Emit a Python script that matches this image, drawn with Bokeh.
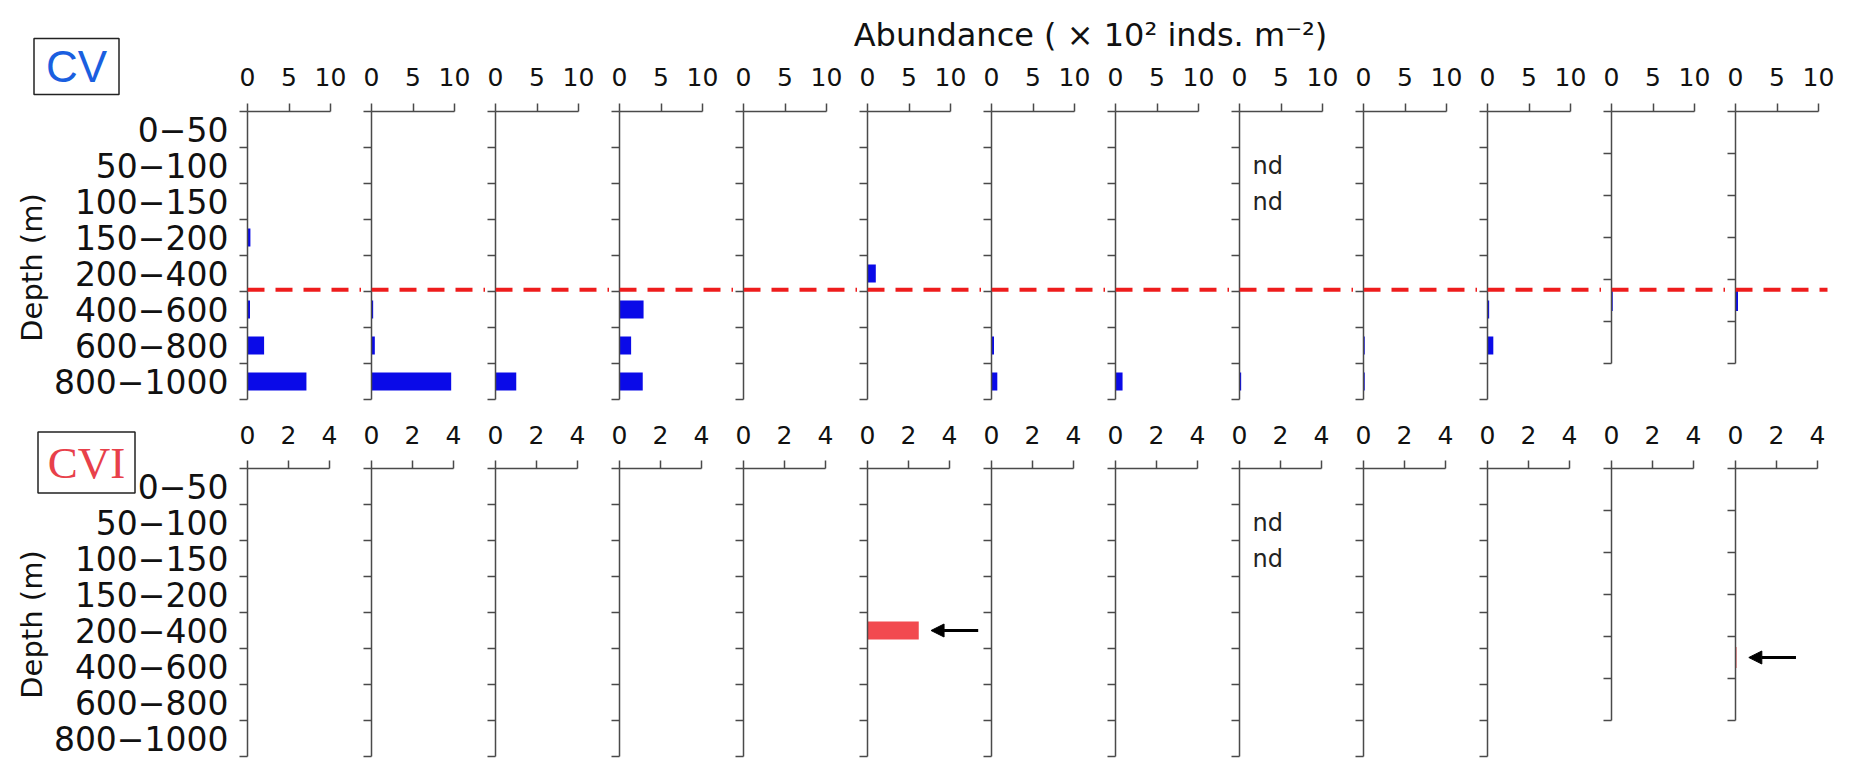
import math
from bokeh.plotting import figure
from bokeh.layouts import column, row
from bokeh.models import Range1d, FixedTicker, Label, Arrow, NormalHead
from bokeh.core.properties import value
from bokeh.embed import file_html
from bokeh.resources import INLINE

# ---------------- data ----------------
depth_labels = ["0−50", "50−100", "100−150", "150−200", "200−400",
                "400−600", "600−800", "800−1000"]
N_SHORT_BINS = 6          # the last two stations have 6 depth layers
ND = None                 # not determined

# CV abundance (x10^2 inds. m^-2), one list per station, top to bottom
cv_s01 = [0, 0, 0, 0.35, 0, 0.3, 2.0, 7.1]
cv_s02 = [0, 0, 0, 0, 0, 0.2, 0.4, 9.6]
cv_s03 = [0, 0, 0, 0, 0, 0, 0, 2.5]
cv_s04 = [0, 0, 0, 0, 0, 2.9, 1.4, 2.8]
cv_s05 = [0, 0, 0, 0, 0, 0, 0, 0]
cv_s06 = [0, 0, 0, 0, 1.0, 0, 0, 0]
cv_s07 = [0, 0, 0, 0, 0, 0, 0.3, 0.7]
cv_s08 = [0, 0, 0, 0, 0, 0, 0, 0.85]
cv_s09 = [0, ND, ND, 0, 0, 0, 0, 0.2]
cv_s10 = [0, 0, 0, 0, 0, 0, 0.15, 0.15]
cv_s11 = [0, 0, 0, 0, 0, 0.2, 0.7, 0]
cv_s12 = [0, 0, 0, 0, 0.15, 0]
cv_s13 = [0, 0, 0, 0, 0.3, 0]
cv_values = [cv_s01, cv_s02, cv_s03, cv_s04, cv_s05, cv_s06, cv_s07,
             cv_s08, cv_s09, cv_s10, cv_s11, cv_s12, cv_s13]

# CVI abundance
cvi_s01 = [0, 0, 0, 0, 0, 0, 0, 0]
cvi_s02 = [0, 0, 0, 0, 0, 0, 0, 0]
cvi_s03 = [0, 0, 0, 0, 0, 0, 0, 0]
cvi_s04 = [0, 0, 0, 0, 0, 0, 0, 0]
cvi_s05 = [0, 0, 0, 0, 0, 0, 0, 0]
cvi_s06 = [0, 0, 0, 0, 2.5, 0, 0, 0]
cvi_s07 = [0, 0, 0, 0, 0, 0, 0, 0]
cvi_s08 = [0, 0, 0, 0, 0, 0, 0, 0]
cvi_s09 = [0, ND, ND, 0, 0, 0, 0, 0]
cvi_s10 = [0, 0, 0, 0, 0, 0, 0, 0]
cvi_s11 = [0, 0, 0, 0, 0, 0, 0, 0]
cvi_s12 = [0, 0, 0, 0, 0, 0]
cvi_s13 = [0, 0, 0, 0, 0.05, 0]
cvi_values = [cvi_s01, cvi_s02, cvi_s03, cvi_s04, cvi_s05, cvi_s06, cvi_s07,
              cvi_s08, cvi_s09, cvi_s10, cvi_s11, cvi_s12, cvi_s13]
cvi_arrows = [(5, 4), (12, 4)]   # (station index, layer index) marked by an arrow

cv_ticks = [0, 5, 10]
cvi_ticks = [0, 2, 4]
x_title = "Abundance ( × 10² inds. m⁻²)"
y_title = "Depth (m)"
stage_names = ["CV", "CVI"]
dash_boundary = 5                # between 200−400 and 400−600

# ---------------- style / layout ----------------
FONT = "DejaVu Sans"
AXIS_COLOR = "#4a4a4a"
TEXT_COLOR = "#111111"
CV_COLOR = "#0a0ae8"
CVI_COLOR = "#f24a4f"
SHORT_SPAN = 7                   # short stations span 7 of the 8 regular layers
LEFT_W = 237                     # label column
PANEL_L = 10                     # left border of every panel (axis ticks)
PANEL_FRAME_W = 114
HEADER_H = 54
BIN_PX = 36
N_REG = len(depth_labels)
ROW1_TOP, ROW1_BOT = 57, 13
ROW2_TOP, ROW2_BOT = 56, 2
FRAME_H = BIN_PX * N_REG


def base_fig(**kw):
    p = figure(toolbar_location=None, output_backend="svg", title=None, **kw)
    p.outline_line_color = None
    p.grid.visible = False
    p.background_fill_color = "white"
    p.border_fill_color = "white"
    return p


def build_row(values_list, ticks, ppu, color, top_b, bot_b, tick_standoff,
              dash=False, arrows=()):
    figs = []
    for c, vals in enumerate(values_list):
        last = c == len(values_list) - 1
        n = len(vals)
        span = SHORT_SPAN if n == N_SHORT_BINS else N_REG
        bsz = span / n
        centers = [(i + 0.5) * bsz for i in range(n)]
        edges = [i * bsz for i in range(n + 1)]

        p = base_fig(width=PANEL_L + PANEL_FRAME_W, height=top_b + FRAME_H + bot_b,
                     x_range=Range1d(0, PANEL_FRAME_W / ppu),
                     y_range=Range1d(N_REG, 0), x_axis_location="above",
                     min_border_left=PANEL_L, min_border_right=0,
                     min_border_top=top_b, min_border_bottom=bot_b)

        right = [v if v is not None else 0 for v in vals]
        p.hbar(y=centers, left=0, right=right, height=0.5 * bsz,
               fill_color=color, line_color=None)

        # x axis (top)
        xa = p.xaxis[0]
        xa.ticker = FixedTicker(ticks=ticks)
        xa.bounds = (ticks[0], ticks[-1])
        xa.axis_line_color = AXIS_COLOR
        xa.axis_line_width = 1.5
        xa.major_tick_line_color = AXIS_COLOR
        xa.major_tick_line_width = 1.5
        xa.major_tick_out = 8
        xa.major_tick_in = 0
        xa.minor_tick_line_color = None
        xa.major_label_text_font = FONT
        xa.major_label_text_font_size = "25px"
        xa.major_label_text_color = TEXT_COLOR
        xa.major_label_standoff = tick_standoff

        # y axis (left): ticks at layer edges
        ya = p.yaxis[0]
        ya.ticker = FixedTicker(ticks=centers, minor_ticks=edges)
        ya.bounds = (0, span)
        ya.axis_line_color = AXIS_COLOR
        ya.axis_line_width = 1.5
        ya.major_tick_line_color = None
        ya.minor_tick_line_color = AXIS_COLOR
        ya.minor_tick_line_width = 1.5
        ya.minor_tick_out = 8
        ya.minor_tick_in = 0
        ya.major_label_standoff = 0
        ya.major_label_overrides = {ctr: "" for ctr in centers}

        # not-determined layers
        for i, v in enumerate(vals):
            if v is None:
                p.add_layout(Label(x=13 / ppu, y=centers[i], text="nd",
                                   text_font=FONT, text_font_size="24px",
                                   text_color="#222222", text_baseline="middle",
                                   text_align="left"))

        if dash:
            x1 = 92 / ppu if last else PANEL_FRAME_W / ppu
            yd = dash_boundary - 0.05
            p.add_layout(Arrow(end=None, x_start=0, x_end=x1, y_start=yd, y_end=yd,
                               line_color="#ee1c1c", line_width=4, line_dash="17 11"))

        for (si, li) in arrows:
            if si == c:
                v = vals[li]
                p.add_layout(Arrow(end=NormalHead(size=13, fill_color="black",
                                                  line_color="black"),
                                   x_start=v + 2.9, x_end=v + 0.6,
                                   y_start=centers[li], y_end=centers[li],
                                   line_color="black", line_width=3))
        figs.append(p)
    return row(*figs, spacing=0)


def build_left(height, frame_top, stage, box_center, box_size, box_font, box_color):
    """Label column: depth class labels, y title and stage box, on the rows' scale."""
    p = base_fig(width=LEFT_W, height=height, x_range=Range1d(0, LEFT_W),
                 y_range=Range1d((height - frame_top) / BIN_PX, -frame_top / BIN_PX),
                 x_axis_type=None, y_axis_type=None, min_border=0)
    centers = [i + 0.5 for i in range(N_REG)]
    p.text(x=[LEFT_W - 9] * N_REG, y=centers, text=depth_labels,
           text_align="right", text_baseline="middle",
           text_font=value(FONT), text_font_size="33px", text_color=TEXT_COLOR)
    p.text(x=[31], y=[N_REG / 2 + 12 / BIN_PX], text=[y_title], angle=math.pi / 2,
           text_align="center", text_baseline="middle",
           text_font=value(FONT), text_font_size="29px", text_color=TEXT_COLOR)
    bx, by = box_center
    byd = (by - frame_top) / BIN_PX
    p.rect(x=[bx], y=[byd], width=box_size[0], height=box_size[1],
           width_units="screen", height_units="screen",
           fill_color=None, line_color="#222222", line_width=1.5)
    p.text(x=[bx], y=[byd], text=[stage], text_align="center", text_baseline="middle",
           text_font=value(box_font[0]), text_font_size=box_font[1],
           text_color=box_color)
    return p


# header with the shared x title
right_w = 13 * (PANEL_L + PANEL_FRAME_W)
header = base_fig(width=right_w, height=HEADER_H, x_range=Range1d(0, right_w),
                  y_range=Range1d(HEADER_H, 0), x_axis_type=None, y_axis_type=None,
                  min_border=0)
header.text(x=[1090 - LEFT_W], y=[34], text=[x_title], text_align="center",
            text_baseline="middle", text_font=value(FONT), text_font_size="32px",
            text_color=TEXT_COLOR)

row1 = build_row(cv_values, cv_ticks, 8.3, CV_COLOR, ROW1_TOP, ROW1_BOT, 18, dash=True)
row2 = build_row(cvi_values, cvi_ticks, 20.5, CVI_COLOR, ROW2_TOP, ROW2_BOT, 17,
                 arrows=cvi_arrows)

left1_h = HEADER_H + ROW1_TOP + FRAME_H + ROW1_BOT
left1 = build_left(left1_h, HEADER_H + ROW1_TOP,
                   stage_names[0], (76, 66), (85, 56), ("Liberation Sans", "44px"), "#1a5fe0")
left2 = build_left(ROW2_TOP + FRAME_H + ROW2_BOT, ROW2_TOP,
                   stage_names[1], (86, 462 - left1_h),
                   (97, 61), ("Liberation Serif", "45px"), "#e8404a")

layout = row(column(left1, left2, spacing=0),
             column(header, row1, row2, spacing=0), spacing=0)
open("out.html", "w").write(file_html(layout, INLINE))
